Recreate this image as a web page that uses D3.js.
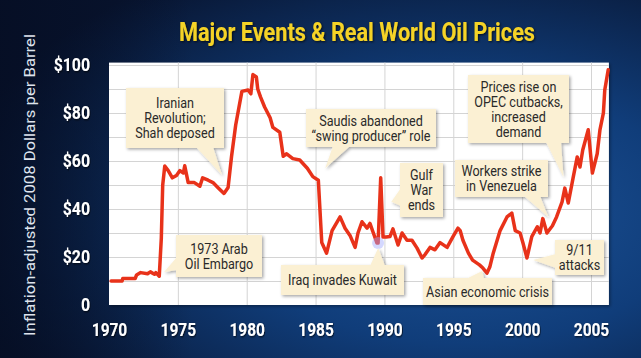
<!DOCTYPE html>
<html><head><meta charset="utf-8">
<script src="https://cdn.jsdelivr.net/npm/d3@7"></script>
<style>html,body{margin:0;padding:0;background:#0b2350;overflow:hidden}</style>
</head><body>
<svg id="chart" width="641" height="358"></svg>
<script>
// ---------- DATA ----------
const years = [1970.15,1970.95,1971.0,1971.9,1972.0,1972.3,1972.8,1973.0,1973.3,1973.4,1973.65,1973.8,1973.9,1974.05,1974.3,1974.6,1974.9,1975.15,1975.4,1975.5,1975.75,1976.2,1976.6,1976.8,1977.2,1977.55,1977.9,1978.35,1978.65,1978.9,1979.2,1979.65,1980.1,1980.3,1980.45,1980.7,1980.8,1981.0,1981.3,1981.7,1981.9,1982.4,1982.65,1982.9,1983.35,1983.85,1984.4,1984.8,1985.2,1985.45,1985.8,1986.2,1986.78,1987.14,1987.5,1987.87,1988.08,1988.37,1988.74,1988.95,1989.17,1989.46,1989.54,1989.73,1989.9,1990.12,1990.4,1990.62,1990.99,1991.28,1991.64,1992.0,1992.37,1992.73,1992.95,1993.31,1993.67,1994.04,1994.55,1994.98,1995.34,1995.5,1995.7,1996.1,1996.4,1996.9,1997.15,1997.45,1997.65,1997.9,1998.4,1998.9,1999.25,1999.5,1999.85,2000.05,2000.35,2000.7,2001.1,2001.3,2001.5,2001.8,2002.2,2002.5,2002.9,2003.1,2003.35,2003.7,2004.0,2004.2,2004.4,2004.8,2005.1,2005.45,2005.65,2005.9,2006.0,2006.25];
const prices = [10,10,11,11,12.5,13.5,13,13.8,12.8,13.5,12,28,50,57.9,56,53,54,56,55,58,51,51,49.5,53,52,51,49,46.5,49,62,75,89,89.6,88,96,95,90,86.7,82.5,78,74,72,62,63,61,60.4,57,53.5,52,26,21.6,31,36.7,32,29,24,30,34.7,32,34,30.4,25.8,25.8,53,28.3,28.3,28.5,31.7,25,30,27,27,23.7,19.6,21,24,23,26,24,28.5,32,31,27,21.6,18.7,16.7,15.4,13.3,15.8,21.6,31,36.7,38.3,31,30,26,19.6,28.5,32.6,30,36,30,33,36.7,43,48.7,42.5,53,61.7,57.5,64.6,73,55,63,73,80,89.6,98];
const xTicks = [1970,1975,1980,1985,1990,1995,2000,2005];
const yTicks = [0,20,40,60,80,100];
const title = "Major Events & Real World Oil Prices";
const yTitle = "Inflation-adjusted 2008 Dollars per Barrel";
const eventLabels = [
  ["Iranian","Revolution;","Shah deposed"],
  ["1973 Arab","Oil Embargo"],
  ["Saudis abandoned","\u201cswing producer\u201d role"],
  ["Gulf","War","ends"],
  ["Iraq invades Kuwait"],
  ["Asian economic crisis"],
  ["Workers strike","in Venezuela"],
  ["Prices rise on","OPEC cutbacks,","increased","demand"],
  ["9/11","attacks"]
];
const eventYears  = [1978.2,1974.0,1985.7,1990.5,1989.55,1997.1,2001.9,2003.0,2000.8];
const eventPrices = [54.2,13.75,57,43,23.75,14.2,36.7,53.3,18.75];

// ---------- LAYOUT (pixels) ----------
const boxes = [ // x0,y0,x1,y1, pointer base points
  {b:[126,88,224,148], p:[[196,147],[213,147]]},
  {b:[176,235,262,277], p:[[177,257],[177,270]]},
  {b:[306,109,436,147], p:[[333,146],[350,146]]},
  {b:[400,163,443,217], p:[[401,188],[401,206]]},
  {b:[281,265,404,295], p:[[370,266],[385,266]]},
  {b:[423,278,552,305], p:[[466,279],[484,279]]},
  {b:[455,160,548,197], p:[[524,196],[540,196]]},
  {b:[468,75,569,143], p:[[546,142],[561,142]]},
  {b:[555,240,604,275], p:[[556,254],[556,268]]}
];

const svg = d3.select("#chart");
const W = 641, H = 358;
const defs = svg.append("defs");
const bg = defs.append("radialGradient").attr("id","bg").attr("cx","72%").attr("cy","60%").attr("r","80%");
bg.append("stop").attr("offset","0%").attr("stop-color","#1d5499");
bg.append("stop").attr("offset","45%").attr("stop-color","#103d7a");
bg.append("stop").attr("offset","100%").attr("stop-color","#08142f");
const lg = defs.append("linearGradient").attr("id","leftdark").attr("x1","0").attr("x2","1");
lg.append("stop").attr("offset","0").attr("stop-color","#050d22").attr("stop-opacity",0.75);
lg.append("stop").attr("offset","0.3").attr("stop-color","#050d22").attr("stop-opacity",0);
const sh = defs.append("filter").attr("id","shadow").attr("x","-20%").attr("y","-20%").attr("width","150%").attr("height","150%");
sh.append("feDropShadow").attr("dx",1.5).attr("dy",1.5).attr("stdDeviation",1.4).attr("flood-color","#000").attr("flood-opacity",0.35);
const tsh = defs.append("filter").attr("id","tshadow");
tsh.append("feDropShadow").attr("dx",1).attr("dy",1).attr("stdDeviation",0.8).attr("flood-color","#000").attr("flood-opacity",0.7);

svg.append("rect").attr("width",W).attr("height",H).attr("fill","url(#bg)");
svg.append("rect").attr("width",W).attr("height",H).attr("fill","url(#leftdark)");

const x = d3.scaleLinear().domain([1970,2005]).range([109,591]);
const y = d3.scaleLinear().domain([0,100]).range([305,65]);

// plot background
svg.append("rect").attr("x",x(1970)).attr("y",y(101)).attr("width",x(2006.3)-x(1970)).attr("height",y(0)-y(101))
  .attr("fill","#fff").attr("filter","url(#shadow)");

// gridlines
const gx = svg.append("g").attr("transform",`translate(0,${y(0)})`)
  .call(d3.axisBottom(x).tickValues(xTicks.slice(1)).tickSize(-(y(0)-y(101))).tickFormat(""));
gx.select(".domain").remove();
gx.selectAll("line").attr("stroke","#d4d4d4").attr("stroke-width",1);
const gy = svg.append("g").attr("transform",`translate(${x(1970)},0)`)
  .call(d3.axisLeft(y).tickValues(d3.range(10,101,10)).tickSize(-(x(2006.3)-x(1970))).tickFormat(""));
gy.select(".domain").remove();
gy.selectAll("line").attr("stroke","#d4d4d4").attr("stroke-width",1);

// line
const pts = years.map((yr,i)=>[yr,prices[i]]);
svg.append("path").datum(pts)
  .attr("d", d3.line().x(d=>x(d[0])).y(d=>y(d[1])))
  .attr("fill","none").attr("stroke","#e8321a").attr("stroke-width",3.5)
  .attr("stroke-linejoin","round").attr("stroke-linecap","round");

// Kuwait marker highlight
svg.append("circle").attr("cx",x(1989.54)).attr("cy",y(25.8)).attr("r",6)
  .attr("fill","#9fa8ff").attr("opacity",0.45);

// axes labels
const ax = svg.append("g").attr("transform",`translate(0,${y(0)})`)
  .call(d3.axisBottom(x).tickValues(xTicks).tickSize(0).tickPadding(18).tickFormat(d3.format("d")));
ax.select(".domain").remove();
ax.selectAll("text").attr("font-family","Roboto").attr("font-weight","bold").attr("font-size",18)
  .attr("fill","#fff").attr("transform","scale(0.86,1)").attr("filter","url(#tshadow)").attr("x",0);

const ay = svg.append("g").attr("transform",`translate(${x(1970)},0)`)
  .call(d3.axisLeft(y).tickValues(yTicks).tickSize(0).tickPadding(19).tickFormat(d=>d===0?"0":"$"+d));
ay.select(".domain").remove();
ay.selectAll("text").attr("font-family","Roboto").attr("font-weight","bold").attr("font-size",18)
  .attr("fill","#fff").attr("x",-19/0.88).attr("transform","scale(0.88,1)").attr("filter","url(#tshadow)");

// y title
svg.append("text").attr("transform","translate(30,185) rotate(-90)")
  .attr("text-anchor","middle").attr("dy","0.35em")
  .attr("font-family","Roboto").attr("font-size",15).attr("fill","#dfe4ee")
  .attr("textLength",302).attr("lengthAdjust","spacingAndGlyphs").text(yTitle);

// title
svg.append("text").attr("x",357).attr("y",41).attr("text-anchor","middle")
  .attr("font-family","Roboto").attr("font-weight","bold").attr("font-size",25)
  .attr("fill","#f5d327").attr("filter","url(#tshadow)")
  .attr("textLength",356).attr("lengthAdjust","spacingAndGlyphs").text(title);

// callouts
eventLabels.forEach((lines,i)=>{
  const L = boxes[i], [x0,y0,x1,y1] = L.b;
  const tip = [x(eventYears[i]), y(eventPrices[i])];
  const g = svg.append("g").attr("filter","url(#shadow)");
  g.append("polygon").attr("points",[L.p[0],L.p[1],tip].map(p=>p.join(",")).join(" ")).attr("fill","#fbf0d3");
  g.append("rect").attr("x",x0).attr("y",y0).attr("width",x1-x0).attr("height",y1-y0).attr("fill","#fbf0d3");
  const cx = (x0+x1)/2, cy=(y0+y1)/2, lh=15;
  const t = svg.append("text").attr("transform",`translate(${cx},${cy}) scale(0.9,1)`)
    .attr("text-anchor","middle").attr("font-family","Roboto").attr("font-size",14).attr("fill","#2a2a2a");
  lines.forEach((ln,j)=>{
    t.append("tspan").attr("x",0).attr("y",(j-(lines.length-1)/2)*lh).attr("dy","0.36em").text(ln);
  });
});
</script>
</body></html>
